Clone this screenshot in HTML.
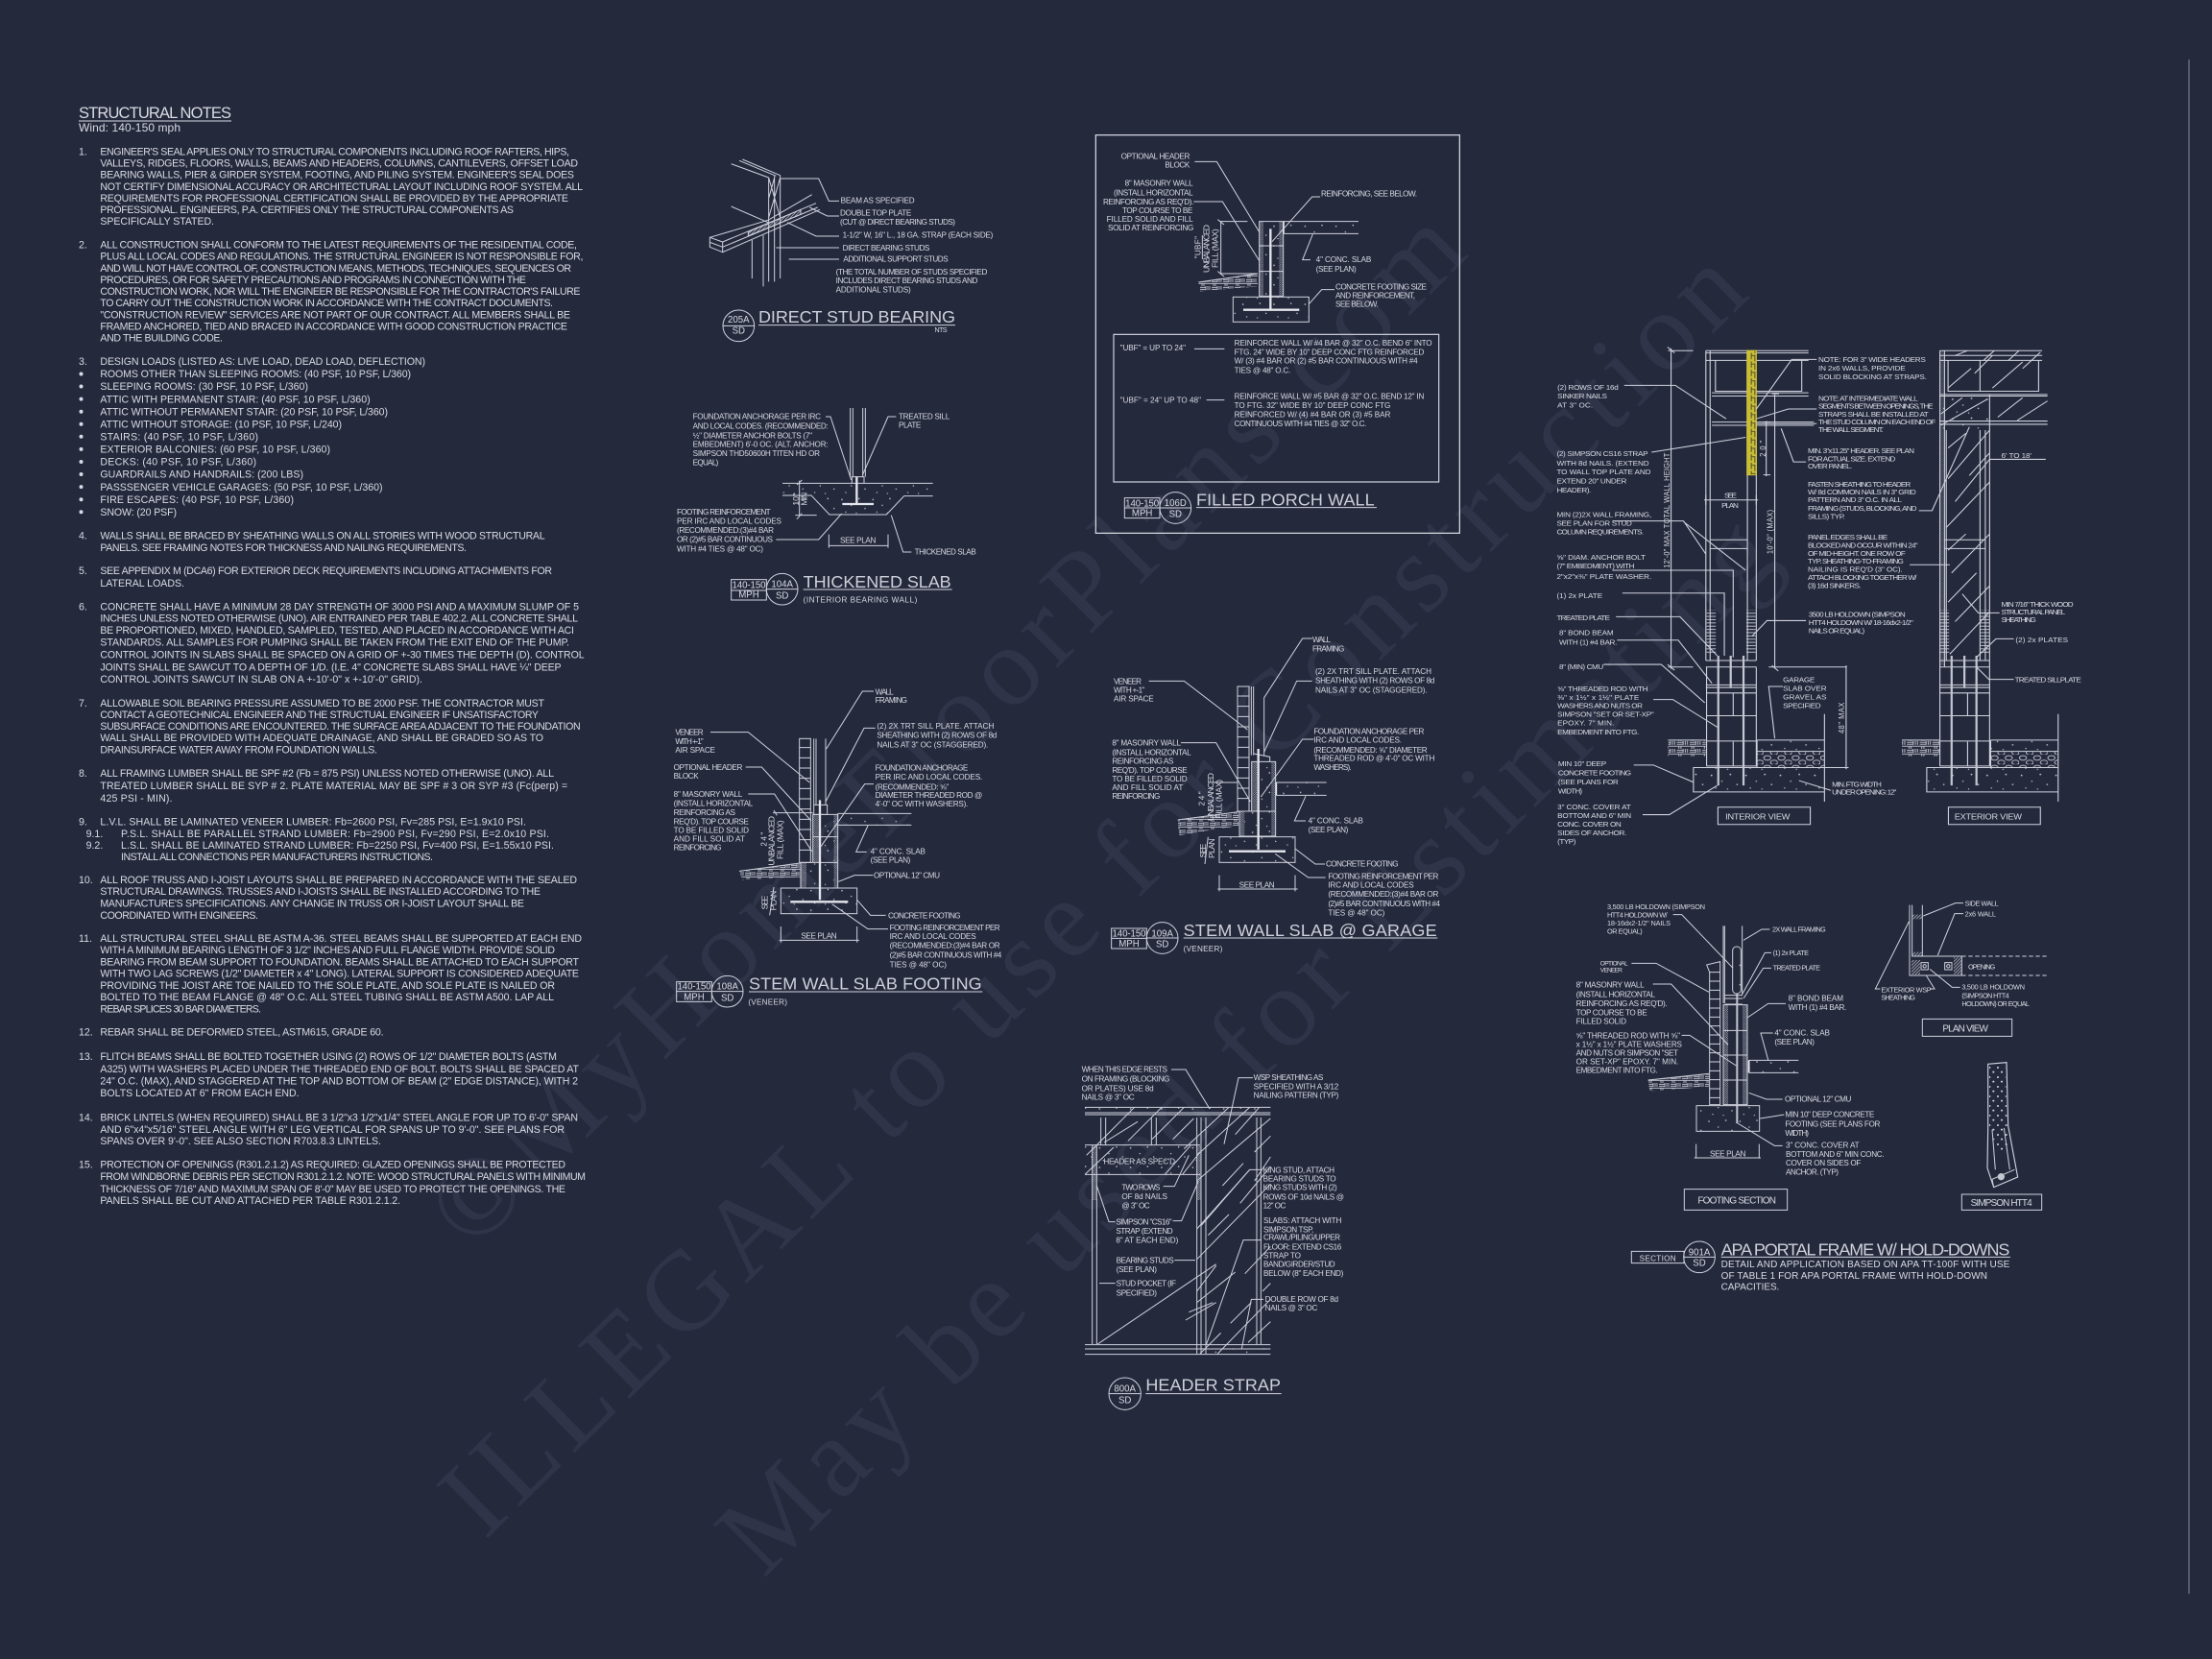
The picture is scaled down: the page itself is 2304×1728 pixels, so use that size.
<!DOCTYPE html>
<html><head><meta charset="utf-8"><title>Structural Notes and Details</title>
<style>
html,body{margin:0;padding:0;background:#25293c}
svg{display:block}
text{fill:#d8dbe3;font-family:"Liberation Sans",sans-serif;font-size:24.5px}
text[text-anchor=middle]{font-size:29px}
.n{font-size:10.6px}
.h{font-size:54px;fill:#ced1da}
.m{font-size:22px}
text[transform].m{font-size:26px}
.b{font-size:30px}
.p text{font-size:22px}
.p text.b{font-size:25px}
.w{font-family:"Liberation Serif",serif;font-size:118px;fill:#303449}
.l{fill:none;stroke:#cfd2dc;stroke-width:3}
.f{stroke:#e4e6ec;stroke-width:7;fill:none}
.g{stroke:#c4c7d0;stroke-width:6;fill:none}
</style></head><body>
<svg xmlns="http://www.w3.org/2000/svg" width="2304" height="1728" viewBox="0 0 2304 1728">
<defs>
<pattern id="c" width="97" height="61" patternUnits="userSpaceOnUse"><g fill="#c9ccd6"><circle cx="9" cy="12" r="2.4"/><circle cx="38" cy="30" r="2"/><circle cx="62" cy="9" r="2.4"/><circle cx="81" cy="40" r="2.2"/><circle cx="21" cy="51" r="2"/><circle cx="54" cy="54" r="1.8"/></g></pattern>
<pattern id="d" width="7" height="7" patternUnits="userSpaceOnUse"><circle cx="2" cy="2" r="1.7" fill="#b9bcc7"/><circle cx="5.5" cy="5.5" r="1.5" fill="#b9bcc7"/></pattern>
<pattern id="h" width="26" height="30" patternUnits="userSpaceOnUse"><circle cx="7" cy="6" r="3" fill="#d8dbe3"/><circle cx="19" cy="20" r="3" fill="#d8dbe3"/></pattern>
<pattern id="e" width="36" height="24" patternUnits="userSpaceOnUse"><path d="M0 4H18M0 10H18M0 16H36M18 0V12M24 0V12M30 0V12M6 16V24M12 16V24" stroke="#cfd2dc" stroke-width="2.4" fill="none"/></pattern>
<pattern id="s" width="10" height="10" patternUnits="userSpaceOnUse"><path d="M0 10L10 0M-2 2L2 -2M8 12L12 8" stroke="#c4c7d0" stroke-width="2.2"/></pattern>
<pattern id="y" width="26" height="26" patternUnits="userSpaceOnUse"><rect width="26" height="26" fill="#c9be35"/><path d="M8 0V20M18 6V26M8 8H18" stroke="#4a4830" stroke-width="2.6" fill="none"/></pattern>
<pattern id="r" width="40" height="30" patternUnits="userSpaceOnUse"><ellipse cx="11" cy="10" rx="10" ry="7" fill="none" stroke="#cfd2dc" stroke-width="2.4"/><ellipse cx="30" cy="24" rx="10" ry="7" fill="none" stroke="#cfd2dc" stroke-width="2.4"/></pattern>
<pattern id="k" width="6" height="10" patternUnits="userSpaceOnUse"><path d="M0 4H6" stroke="#cfd2dc" stroke-width="2.6"/></pattern>
</defs>
<rect width="2304" height="1728" fill="#25293c"/>

<!-- watermarks -->
<text class="w" transform="translate(492,1305) rotate(-45)" textLength="1470">©MyHomeFloorPlans.com</text>
<text class="w" transform="translate(505,1605) rotate(-44.5)" textLength="1850">ILLEGAL to use for Construction</text>
<text class="w" transform="translate(795,1645) rotate(-45)" textLength="1500">May be used for Estimating</text>

<line x1="2280" y1="62" x2="2280" y2="1660" stroke="#6c7080" stroke-width="1.4"/>

<!-- structural notes -->
<text x="82" y="123" style="font-size:16.5px" textLength="159">STRUCTURAL NOTES</text>
<line x1="82" y1="126" x2="241" y2="126" stroke="#d8dbe3" stroke-width="1"/>
<text class="n" x="82" y="137" style="font-size:12px" textLength="106">Wind: 140-150 mph</text>
<text class="n" x="82" y="161.4">1.</text>
<text class="n" x="104.4" y="161.4" textLength="488.6">ENGINEER'S SEAL APPLIES ONLY TO STRUCTURAL COMPONENTS INCLUDING ROOF RAFTERS, HIPS,</text>
<text class="n" x="104.4" y="173.6" textLength="497.6">VALLEYS, RIDGES, FLOORS, WALLS, BEAMS AND HEADERS, COLUMNS, CANTILEVERS, OFFSET LOAD</text>
<text class="n" x="104.4" y="185.7" textLength="493.6">BEARING WALLS, PIER &amp; GIRDER SYSTEM, FOOTING, AND PILING SYSTEM.  ENGINEER'S SEAL DOES</text>
<text class="n" x="104.4" y="197.9" textLength="502.6">NOT CERTIFY DIMENSIONAL ACCURACY OR ARCHITECTURAL LAYOUT INCLUDING ROOF SYSTEM. ALL</text>
<text class="n" x="104.4" y="210" textLength="487.6">REQUIREMENTS FOR PROFESSIONAL CERTIFICATION SHALL BE PROVIDED BY THE APPROPRIATE</text>
<text class="n" x="104.4" y="222" textLength="430.6">PROFESSIONAL.  ENGINEERS, P.A. CERTIFIES ONLY THE STRUCTURAL COMPONENTS AS</text>
<text class="n" x="104.4" y="234" textLength="118.6">SPECIFICALLY STATED.</text>
<text class="n" x="82" y="258.6">2.</text>
<text class="n" x="104.4" y="258.6" textLength="496.6">ALL CONSTRUCTION SHALL CONFORM TO THE LATEST REQUIREMENTS OF THE  RESIDENTIAL CODE,</text>
<text class="n" x="104.4" y="270.7" textLength="503">PLUS ALL LOCAL CODES AND REGULATIONS. THE STRUCTURAL ENGINEER IS NOT RESPONSIBLE FOR,</text>
<text class="n" x="104.4" y="282.9" textLength="490.6">AND WILL NOT HAVE CONTROL OF, CONSTRUCTION MEANS, METHODS, TECHNIQUES, SEQUENCES OR</text>
<text class="n" x="104.4" y="295" textLength="443.6">PROCEDURES, OR FOR SAFETY PRECAUTIONS AND PROGRAMS IN CONNECTION WITH THE</text>
<text class="n" x="104.4" y="307" textLength="500">CONSTRUCTION WORK, NOR WILL THE ENGINEER BE RESPONSIBLE FOR THE CONTRACTOR'S FAILURE</text>
<text class="n" x="104.4" y="319" textLength="471.6">TO CARRY OUT THE CONSTRUCTION WORK IN ACCORDANCE WITH THE CONTRACT DOCUMENTS.</text>
<text class="n" x="104.4" y="331.5" textLength="489.6">"CONSTRUCTION REVIEW" SERVICES ARE NOT PART OF OUR CONTRACT. ALL MEMBERS SHALL BE</text>
<text class="n" x="104.4" y="343.6" textLength="486.6">FRAMED ANCHORED, TIED AND BRACED IN ACCORDANCE WITH GOOD CONSTRUCTION PRACTICE</text>
<text class="n" x="104.4" y="355.7" textLength="127.6">AND THE BUILDING CODE.</text>
<text class="n" x="82" y="380">3.</text>
<text class="n" x="104.4" y="380" textLength="338.6">DESIGN LOADS (LISTED AS: LIVE LOAD, DEAD LOAD, DEFLECTION)</text>
<g fill="#d8dbe3"><circle cx="84.5" cy="389.5" r="2"/><circle cx="84.5" cy="402.5" r="2"/><circle cx="84.5" cy="415.6" r="2"/><circle cx="84.5" cy="428.7" r="2"/><circle cx="84.5" cy="441.8" r="2"/><circle cx="84.5" cy="454.8" r="2"/><circle cx="84.5" cy="467.9" r="2"/><circle cx="84.5" cy="481" r="2"/><circle cx="84.5" cy="494" r="2"/><circle cx="84.5" cy="507.1" r="2"/><circle cx="84.5" cy="520.2" r="2"/><circle cx="84.5" cy="533.3" r="2"/></g>
<text class="n" x="104.4" y="393.2" textLength="323.6">ROOMS OTHER THAN SLEEPING ROOMS: (40 PSF, 10 PSF, L/360)</text>
<text class="n" x="104.4" y="406.2" textLength="216.6">SLEEPING ROOMS: (30 PSF, 10 PSF, L/360)</text>
<text class="n" x="104.4" y="419.3" textLength="281.2">ATTIC WITH PERMANENT STAIR: (40 PSF, 10 PSF, L/360)</text>
<text class="n" x="104.4" y="432.4" textLength="299.6">ATTIC WITHOUT PERMANENT STAIR: (20 PSF, 10 PSF, L/360)</text>
<text class="n" x="104.4" y="445.5" textLength="251.6">ATTIC WITHOUT STORAGE: (10 PSF, 10 PSF, L/240)</text>
<text class="n" x="104.4" y="458.5" textLength="164.6">STAIRS: (40 PSF, 10 PSF, L/360)</text>
<text class="n" x="104.4" y="471.6" textLength="239.6">EXTERIOR BALCONIES: (60 PSF, 10 PSF, L/360)</text>
<text class="n" x="104.4" y="484.7" textLength="162.6">DECKS: (40 PSF, 10 PSF, L/360)</text>
<text class="n" x="104.4" y="497.7" textLength="211.6">GUARDRAILS AND HANDRAILS: (200 LBS)</text>
<text class="n" x="104.4" y="510.8" textLength="294.1">PASSSENGER VEHICLE GARAGES: (50 PSF, 10 PSF, L/360)</text>
<text class="n" x="104.4" y="523.9" textLength="201.6">FIRE ESCAPES: (40 PSF, 10 PSF, L/360)</text>
<text class="n" x="104.4" y="537" textLength="79.6">SNOW: (20 PSF)</text>
<text class="n" x="82" y="561.4">4.</text>
<text class="n" x="104.4" y="561.4" textLength="463.2">WALLS SHALL BE BRACED BY SHEATHING WALLS ON ALL STORIES WITH WOOD STRUCTURAL</text>
<text class="n" x="104.4" y="574" textLength="381.6">PANELS. SEE FRAMING NOTES FOR THICKNESS AND NAILING REQUIREMENTS.</text>
<text class="n" x="82" y="598">5.</text>
<text class="n" x="104.4" y="598" textLength="470.6">SEE APPENDIX M (DCA6) FOR EXTERIOR DECK REQUIREMENTS INCLUDING ATTACHMENTS FOR</text>
<text class="n" x="104.4" y="611" textLength="87.6">LATERAL LOADS.</text>
<text class="n" x="82" y="635.4">6.</text>
<text class="n" x="104.4" y="635.4" textLength="498.6">CONCRETE SHALL HAVE A MINIMUM 28 DAY STRENGTH OF 3000 PSI AND A MAXIMUM SLUMP OF 5</text>
<text class="n" x="104.4" y="647.5" textLength="497.6">INCHES UNLESS NOTED OTHERWISE (UNO). AIR ENTRAINED PER TABLE 402.2. ALL CONCRETE SHALL</text>
<text class="n" x="104.4" y="660" textLength="493.6">BE PROPORTIONED, MIXED, HANDLED, SAMPLED, TESTED, AND PLACED IN ACCORDANCE WITH ACI</text>
<text class="n" x="104.4" y="672.5" textLength="488.6">STANDARDS. ALL SAMPLES FOR PUMPING SHALL BE TAKEN FROM THE EXIT END OF THE PUMP.</text>
<text class="n" x="104.4" y="685.6" textLength="504.2">CONTROL JOINTS IN SLABS SHALL BE SPACED ON A GRID OF +-30 TIMES THE DEPTH (D). CONTROL</text>
<text class="n" x="104.4" y="698.6" textLength="480.2">JOINTS SHALL BE SAWCUT TO A DEPTH OF 1/D. (I.E. 4" CONCRETE SLABS SHALL HAVE ¼" DEEP</text>
<text class="n" x="104.4" y="711" textLength="335.6">CONTROL JOINTS SAWCUT IN SLAB ON A +-10'-0" x +-10'-0" GRID).</text>
<text class="n" x="82" y="735.8">7.</text>
<text class="n" x="104.4" y="735.8" textLength="462.6">ALLOWABLE SOIL BEARING PRESSURE ASSUMED TO BE 2000 PSF. THE CONTRACTOR MUST</text>
<text class="n" x="104.4" y="748" textLength="456.6">CONTACT A GEOTECHNICAL ENGINEER AND THE STRUCTUAL ENGINEER IF UNSATISFACTORY</text>
<text class="n" x="104.4" y="760" textLength="500.2">SUBSURFACE CONDITIONS ARE ENCOUNTERED. THE SURFACE AREA ADJACENT TO THE FOUNDATION</text>
<text class="n" x="104.4" y="772" textLength="461.6">WALL SHALL BE PROVIDED WITH ADEQUATE DRAINAGE, AND SHALL BE GRADED SO AS TO</text>
<text class="n" x="104.4" y="784.4" textLength="288.6">DRAINSURFACE WATER AWAY FROM FOUNDATION WALLS.</text>
<text class="n" x="82" y="809">8.</text>
<text class="n" x="104.4" y="809" textLength="472.6">ALL FRAMING LUMBER SHALL BE SPF #2 (Fb = 875 PSI) UNLESS NOTED OTHERWISE (UNO). ALL</text>
<text class="n" x="104.4" y="822" textLength="486.6">TREATED LUMBER SHALL BE SYP # 2. PLATE MATERIAL MAY BE SPF # 3 OR SYP #3 (Fc(perp) =</text>
<text class="n" x="104.4" y="835" textLength="75.1">425 PSI - MIN).</text>
<text class="n" x="82" y="859.6">9.</text>
<text class="n" x="104.4" y="859.6" textLength="443.6">L.V.L.  SHALL BE LAMINATED VENEER LUMBER: Fb=2600 PSI, Fv=285 PSI, E=1.9x10   PSI.</text>
<text class="n" x="89.6" y="871.8">9.1.</text>
<text class="n" x="126" y="871.8" textLength="446">P.S.L.  SHALL BE PARALLEL STRAND LUMBER: Fb=2900 PSI, Fv=290 PSI, E=2.0x10   PSI.</text>
<text class="n" x="89.6" y="884">9.2.</text>
<text class="n" x="126" y="884" textLength="451">L.S.L.  SHALL BE LAMINATED STRAND LUMBER: Fb=2250 PSI, Fv=400 PSI, E=1.55x10   PSI.</text>
<text class="n" x="126" y="896" textLength="325">INSTALL ALL CONNECTIONS PER MANUFACTURERS INSTRUCTIONS.</text>
<text class="n" x="82" y="920">10.</text>
<text class="n" x="104.4" y="920" textLength="496.6">ALL ROOF TRUSS AND I-JOIST LAYOUTS SHALL BE PREPARED IN ACCORDANCE WITH THE SEALED</text>
<text class="n" x="104.4" y="932" textLength="458.6">STRUCTURAL DRAWINGS. TRUSSES AND I-JOISTS SHALL BE INSTALLED ACCORDING TO THE</text>
<text class="n" x="104.4" y="944.6" textLength="441.6">MANUFACTURE'S SPECIFICATIONS. ANY CHANGE IN TRUSS OR I-JOIST LAYOUT SHALL BE</text>
<text class="n" x="104.4" y="957" textLength="164.6">COORDINATED WITH  ENGINEERS.</text>
<text class="n" x="82" y="981">11.</text>
<text class="n" x="104.4" y="981" textLength="501.6">ALL STRUCTURAL STEEL SHALL BE ASTM A-36. STEEL BEAMS SHALL BE SUPPORTED AT EACH END</text>
<text class="n" x="104.4" y="993" textLength="473.6">WITH A MINIMUM BEARING LENGTH OF 3 1/2" INCHES AND FULL FLANGE WIDTH. PROVIDE SOLID</text>
<text class="n" x="104.4" y="1005.5" textLength="498.6">BEARING FROM BEAM SUPPORT TO FOUNDATION.  BEAMS SHALL BE ATTACHED TO EACH SUPPORT</text>
<text class="n" x="104.4" y="1017.7" textLength="498.6">WITH TWO LAG SCREWS (1/2" DIAMETER x 4" LONG). LATERAL SUPPORT IS CONSIDERED ADEQUATE</text>
<text class="n" x="104.4" y="1030" textLength="473.6">PROVIDING THE JOIST ARE TOE NAILED TO THE SOLE PLATE, AND SOLE PLATE IS NAILED OR</text>
<text class="n" x="104.4" y="1042" textLength="472.6">BOLTED TO THE BEAM FLANGE @ 48" O.C. ALL STEEL TUBING SHALL BE ASTM A500. LAP ALL</text>
<text class="n" x="104.4" y="1054.5" textLength="167.6">REBAR SPLICES 30 BAR DIAMETERS.</text>
<text class="n" x="82" y="1078.6">12.</text>
<text class="n" x="104.4" y="1078.6" textLength="295.2">REBAR SHALL BE DEFORMED STEEL, ASTM615, GRADE 60.</text>
<text class="n" x="82" y="1104">13.</text>
<text class="n" x="104.4" y="1104" textLength="475.6">FLITCH BEAMS SHALL BE BOLTED TOGETHER USING (2) ROWS OF 1/2" DIAMETER BOLTS (ASTM</text>
<text class="n" x="104.4" y="1117" textLength="498.6">A325) WITH WASHERS PLACED UNDER THE THREADED END OF BOLT. BOLTS SHALL BE SPACED AT</text>
<text class="n" x="104.4" y="1129.6" textLength="497.6">24" O.C. (MAX), AND STAGGERED AT THE TOP AND BOTTOM OF BEAM (2" EDGE DISTANCE), WITH 2</text>
<text class="n" x="104.4" y="1142" textLength="207.2">BOLTS LOCATED AT 6" FROM EACH END.</text>
<text class="n" x="82" y="1167.6">14.</text>
<text class="n" x="104.4" y="1167.6" textLength="497.6">BRICK LINTELS (WHEN REQUIRED) SHALL BE 3 1/2"x3 1/2"x1/4" STEEL ANGLE FOR UP TO 6'-0" SPAN</text>
<text class="n" x="104.4" y="1180" textLength="483.6">AND 6"x4"x5/16" STEEL ANGLE WITH 6" LEG VERTICAL FOR SPANS UP TO 9'-0". SEE PLANS FOR</text>
<text class="n" x="104.4" y="1192" textLength="292.6">SPANS OVER 9'-0". SEE ALSO SECTION R703.8.3 LINTELS.</text>
<text class="n" x="82" y="1216.6">15.</text>
<text class="n" x="104.4" y="1216.6" textLength="484.6">PROTECTION OF OPENINGS (R301.2.1.2) AS REQUIRED: GLAZED OPENINGS SHALL BE PROTECTED</text>
<text class="n" x="104.4" y="1229" textLength="505.6">FROM WINDBORNE DEBRIS PER SECTION R301.2.1.2. NOTE: WOOD STRUCTURAL PANELS WITH MINIMUM</text>
<text class="n" x="104.4" y="1242" textLength="484.6">THICKNESS OF 7/16" AND MAXIMUM SPAN OF 8'-0" MAY BE USED TO PROTECT THE OPENINGS. THE</text>
<text class="n" x="104.4" y="1254" textLength="312.6">PANELS SHALL BE CUT AND ATTACHED PER TABLE R301.2.1.2.</text>

<!-- direct stud bearing + thickened slab -->
<g transform="translate(680,130) scale(.33333)">
<path class="l" d="M245 122L362 165M270 112L385 160M280 108L398 158M362 165V490M380 160V490M398 158V480M362 165L398 290M398 165L362 290M380 165L362 230M178 352V382L218 398V366ZM178 367L218 382M178 352L360 298L497 218M218 366L510 245M218 382L515 258M218 398L522 265M245 255L360 305M310 360V480M345 345V505"/>
<polygon points="298,335 462,265 462,280 298,347" fill="url(#s)" stroke="#cfd2dc" stroke-width="3"/>
<path class="l" d="M400 168H518L550 238H582M490 258L545 285H582M420 305L510 348H582M385 384H582M425 420H582"/>
<text x="587" y="245" textLength="231">BEAM AS SPECIFIED</text>
<text x="585" y="283" textLength="223">DOUBLE TOP PLATE</text>
<text x="585" y="312" textLength="360">(CUT @ DIRECT BEARING STUDS)</text>
<text x="593" y="353" textLength="470">1-1/2" W, 16" L., 18 GA. STRAP (EACH SIDE)</text>
<text x="593" y="393" textLength="272">DIRECT BEARING STUDS</text>
<text x="595" y="428" textLength="328">ADDITIONAL SUPPORT STUDS</text>
<text x="572" y="468" textLength="473">(THE TOTAL NUMBER OF STUDS SPECIFIED</text>
<text x="572" y="495" textLength="443">INCLUDES DIRECT BEARING STUDS AND</text>
<text x="572" y="524" textLength="234">ADDITIONAL STUDS)</text>
<circle class="l" cx="268" cy="628" r="49"/><line class="l" x1="220" y1="628" x2="317" y2="628"/>
<text x="268" y="618" text-anchor="middle">205A</text><text x="268" y="653" text-anchor="middle">SD</text>
<text class="h" x="330" y="618" textLength="615">DIRECT STUD BEARING</text>
<line class="l" x1="330" y1="626" x2="945" y2="626"/>
<text x="880" y="648" style="font-size:22px" textLength="40">NTS</text>

<polygon points="405,1120 875,1120 875,1160 785,1160 730,1218 552,1218 495,1158 405,1158" fill="url(#c)"/>
<path class="l" d="M617 885V1100M625 885V1100M656 885V1100M664 885V1100M622 1100H660V1120H622ZM405 1120H875M405 1158H495L552 1218H730L785 1160H875"/>
<path class="f" d="M637 1100V1185M592 1185H690"/>
<path class="l" d="M458 1112V1222M445 1220H512M450 1125L466 1110M450 1232L466 1214"/>
<text class="m" transform="translate(456,1190) rotate(-90)" textLength="38">10"</text><text class="m" transform="translate(482,1190) rotate(-90)" textLength="42">MIN</text>
<path class="l" d="M540 912H555L620 1110M760 912H735L655 1095M385 1296H518L590 1215M808 1335H782L745 1220M550 1315H735M550 1280V1322M735 1280V1322"/>
<text x="585" y="1306" textLength="112">SEE PLAN</text>
<text x="125" y="920" textLength="400">FOUNDATION ANCHORAGE PER IRC</text>
<text x="125" y="949" textLength="423">AND LOCAL CODES. (RECOMMENDED:</text>
<text x="125" y="979" textLength="373">½" DIAMETER ANCHOR BOLTS (7"</text>
<text x="125" y="1007" textLength="423">EMBEDMENT) 6'-0 OC. (ALT. ANCHOR:</text>
<text x="125" y="1035" textLength="397">SIMPSON THD50600H TITEN HD OR</text>
<text x="125" y="1063" textLength="80">EQUAL)</text>
<text x="768" y="919" textLength="160">TREATED SILL</text>
<text x="768" y="946" textLength="70">PLATE</text>
<text x="75" y="1218" textLength="293">FOOTING REINFORCEMENT</text>
<text x="75" y="1246" textLength="327">PER IRC AND LOCAL CODES</text>
<text x="75" y="1275" textLength="303">(RECOMMENDED:(3)#4 BAR</text>
<text x="75" y="1304" textLength="300">OR (2)#5 BAR CONTINUOUS</text>
<text x="75" y="1333" textLength="270">WITH #4 TIES @ 48" OC)</text>
<text x="818" y="1343" textLength="192">THICKENED SLAB</text>
<path class="l" d="M245 1421H355V1485H245ZM245 1455H355"/>
<text x="300" y="1447" text-anchor="middle" textLength="105">140-150</text><text x="300" y="1478" text-anchor="middle">MPH</text>
<circle class="l" cx="404" cy="1451" r="49"/><line class="l" x1="355" y1="1451" x2="453" y2="1451"/>
<text x="404" y="1445" text-anchor="middle">104A</text><text x="404" y="1480" text-anchor="middle">SD</text>
<text class="h" x="470" y="1446" textLength="462">THICKENED SLAB</text>
<line class="l" x1="470" y1="1452" x2="935" y2="1452"/>
<text x="470" y="1492" textLength="356">(INTERIOR BEARING WALL)</text>
</g>

<!-- stem wall slab footing -->
<g transform="translate(680,700) scale(.33333)">
<rect x="458" y="208" width="35" height="387" fill="none" stroke="#cfd2dc" stroke-width="3"/>
<path class="l" d="M458 236H493M458 268H493M458 300H493M458 332H493M458 364H493M458 396H493M458 428H493M458 460H493M458 492H493M458 524H493M458 556H493"/>
<path class="l" d="M503 208V415M510 208V415M540 208V415M503 415H545V445H503Z"/>
<rect x="500" y="445" width="18" height="150" fill="url(#d)"/><rect x="566" y="445" width="12" height="150" fill="url(#d)"/>
<rect x="462" y="595" width="18" height="80" fill="url(#d)"/><rect x="566" y="595" width="12" height="80" fill="url(#d)"/>
<rect x="518" y="445" width="48" height="150" fill="url(#c)"/><rect x="480" y="595" width="86" height="80" fill="url(#c)"/>
<path class="l" d="M500 445H578V595H500ZM500 515H578M462 595H578V675H462Z"/>
<rect x="400" y="675" width="238" height="80" fill="url(#c)" stroke="#cfd2dc" stroke-width="3"/>
<path class="f" d="M522 400V712M430 718H610"/>
<rect x="578" y="442" width="230" height="36" fill="url(#c)"/><path class="l" d="M578 442H808M578 478H808M578 442V478"/>
<polygon points="270,622 460,597 460,640 280,650" fill="url(#e)"/><path class="l" d="M270 622L460 597"/>
<path class="l" d="M375 440H500M378 432L388 448"/>
<text transform="translate(356,545) rotate(-90)" textLength="45">24"</text><text class="m" transform="translate(380,605) rotate(-90)" textLength="155">UNBALANCED</text><text class="m" transform="translate(407,585) rotate(-90)" textLength="122">FILL (MAX)</text>
<text class="m" transform="translate(358,742) rotate(-90)" textLength="44">SEE</text><text class="m" transform="translate(385,745) rotate(-90)" textLength="62">PLAN</text>
<path class="l" d="M378 672L365 760M400 795V845M638 795V845M395 838H645"/>
<text x="463" y="833" textLength="112">SEE PLAN</text>
<path class="l" d="M180 188H298L490 345M290 297H340L495 465M298 381H380L497 560M690 60H655L542 240M695 175H660L540 405M690 350H662L525 545M668 562H635L672 480M688 635H630L580 655M728 760H680L638 712M735 803H672L560 725"/>
<text x="695" y="70" textLength="57">WALL</text><text x="695" y="96" textLength="100">FRAMING</text>
<text x="700" y="177" textLength="366">(2) 2X TRT SILL PLATE. ATTACH</text>
<text x="700" y="206" textLength="375">SHEATHING WITH (2) ROWS OF 8d</text>
<text x="700" y="235" textLength="348">NAILS AT 3" OC (STAGGERED).</text>
<text x="70" y="197" textLength="88">VENEER</text><text x="70" y="225" textLength="88">WITH +-1"</text><text x="70" y="252" textLength="125">AIR SPACE</text>
<text x="65" y="306" textLength="215">OPTIONAL HEADER</text><text x="65" y="333" textLength="78">BLOCK</text>
<text x="65" y="390" textLength="215">8" MASONRY WALL</text>
<text x="65" y="419" textLength="248">(INSTALL HORIZONTAL</text>
<text x="65" y="447" textLength="193">REINFORCING AS</text>
<text x="65" y="476" textLength="235">REQ'D). TOP COURSE</text>
<text x="65" y="503" textLength="235">TO BE FILLED SOLID</text>
<text x="65" y="530" textLength="223">AND FILL SOLID AT</text>
<text x="65" y="557" textLength="150">REINFORCING</text>
<text x="695" y="308" textLength="290">FOUNDATION ANCHORAGE</text>
<text x="695" y="336" textLength="335">PER IRC AND LOCAL CODES.</text>
<text x="695" y="367" textLength="230">(RECOMMENDED: ⅝"</text>
<text x="695" y="393" textLength="335">DIAMETER THREADED ROD @</text>
<text x="695" y="420" textLength="290">4'-0" OC WITH WASHERS).</text>
<text x="680" y="568" textLength="172">4" CONC. SLAB</text><text x="680" y="596" textLength="125">(SEE PLAN)</text>
<text x="690" y="644" textLength="207">OPTIONAL 12" CMU</text>
<text x="735" y="769" textLength="227">CONCRETE FOOTING</text>
<text x="740" y="807" textLength="345">FOOTING REINFORCEMENT PER</text>
<text x="740" y="834" textLength="270">IRC AND LOCAL CODES</text>
<text x="740" y="863" textLength="345">(RECOMMENDED:(3)#4 BAR OR</text>
<text x="740" y="893" textLength="350">(2)#5 BAR CONTINUOUS WITH #4</text>
<text x="740" y="922" textLength="178">TIES @ 48" OC)</text>
<path class="l" d="M74 968H184V1030H74ZM74 998H184"/>
<text x="129" y="992" text-anchor="middle" textLength="105">140-150</text><text x="129" y="1024" text-anchor="middle">MPH</text>
<circle class="l" cx="233" cy="998" r="49"/><line class="l" x1="186" y1="998" x2="282" y2="998"/>
<text x="233" y="992" text-anchor="middle">108A</text><text x="233" y="1028" text-anchor="middle">SD</text>
<text class="h" x="300" y="992" textLength="728">STEM WALL SLAB FOOTING</text>
<line class="l" x1="300" y1="999" x2="1030" y2="999"/>
<text x="298" y="1040" textLength="122">(VENEER)</text>
</g>

<!-- filled porch wall -->
<g transform="translate(1130,130) scale(.33333)">
<rect x="34" y="32" width="1137" height="1244" fill="none" stroke="#dfe1e8" stroke-width="3.6"/>
<rect x="90" y="655" width="1016" height="461" fill="none" stroke="#cfd2dc" stroke-width="3.6"/>
<rect x="545" y="302" width="13" height="233" fill="url(#d)"/><rect x="607" y="302" width="13" height="233" fill="url(#d)"/>
<rect x="558" y="302" width="49" height="233" fill="url(#c)"/>
<path class="l" d="M545 302H620V535H545ZM545 378H620M545 458H620"/>
<rect x="463" y="538" width="237" height="78" fill="url(#c)" stroke="#cfd2dc" stroke-width="3"/>
<path class="f" d="M580 325V578M495 578H670"/>
<rect x="620" y="302" width="235" height="38" fill="url(#c)"/><path class="l" d="M620 302H855M620 340H855"/><path d="M621 302V340" stroke="#e4e6ec" stroke-width="5"/>
<polygon points="355,492 540,465 540,505 360,520" fill="url(#e)"/><path class="l" d="M355 492L540 465"/>
<path class="l" d="M425 300V468M415 296L435 312M415 458L435 474M425 302H508M425 465H540"/>
<text transform="translate(362,418) rotate(-90)" textLength="70">"UBF"</text><line class="l" x1="367" y1="345" x2="367" y2="420"/>
<text class="m" transform="translate(388,462) rotate(-90)" textLength="150">UNBALANCED</text><text class="m" transform="translate(416,447) rotate(-90)" textLength="122">FILL (MAX)</text>
<path class="l" d="M343 115H412L545 335M340 240H430L545 425M735 225H710L585 365M705 422H680L712 342M780 515H740L700 560M342 700H436M380 860H436"/>
<text x="113" y="107" textLength="215">OPTIONAL HEADER</text><text x="250" y="134" textLength="78">BLOCK</text>
<text x="125" y="191" textLength="213">8" MASONRY WALL</text>
<text x="90" y="220" textLength="248">(INSTALL HORIZONTAL</text>
<text x="57" y="249" textLength="283">REINFORCING AS REQ'D).</text>
<text x="117" y="276" textLength="220">TOP COURSE TO BE</text>
<text x="68" y="303" textLength="270">FILLED SOLID AND FILL</text>
<text x="72" y="330" textLength="268">SOLID AT REINFORCING</text>
<text x="738" y="223" textLength="300">REINFORCING, SEE BELOW.</text>
<text x="722" y="429" textLength="173">4" CONC. SLAB</text><text x="722" y="459" textLength="126">(SEE PLAN)</text>
<text x="783" y="514" textLength="285">CONCRETE FOOTING SIZE</text>
<text x="783" y="541" textLength="249">AND REINFORCEMENT,</text>
<text x="783" y="568" textLength="134">SEE BELOW.</text>
<text x="110" y="705" textLength="205">"UBF" = UP TO 24"</text>
<text x="467" y="690" textLength="618">REINFORCE WALL W/ #4 BAR @ 32" O.C. BEND 6" INTO</text>
<text x="467" y="718" textLength="593">FTG. 24" WIDE BY 10" DEEP CONC FTG REINFORCED</text>
<text x="467" y="746" textLength="573">W/ (3) #4 BAR OR (2) #5 BAR CONTINUOUS WITH #4</text>
<text x="467" y="775" textLength="176">TIES @ 48" O.C.</text>
<text x="110" y="868" textLength="253">"UBF" = 24" UP TO 48"</text>
<text x="467" y="857" textLength="593">REINFORCE WALL W/ #5 BAR @ 32" O.C. BEND 12" IN</text>
<text x="467" y="885" textLength="488">TO FTG.  32" WIDE BY 10" DEEP CONC FTG</text>
<text x="467" y="913" textLength="488">REINFORCED W/ (4) #4 BAR OR (3) #5 BAR</text>
<text x="467" y="942" textLength="413">CONTINUOUS WITH #4 TIES @ 32" O.C.</text>
<path class="l" d="M124 1166H234V1229H124ZM124 1197H234"/>
<text x="179" y="1192" text-anchor="middle" textLength="105">140-150</text><text x="179" y="1223" text-anchor="middle">MPH</text>
<circle class="l" cx="283" cy="1197" r="49"/><line class="l" x1="234" y1="1197" x2="332" y2="1197"/>
<text x="283" y="1191" text-anchor="middle">106D</text><text x="283" y="1226" text-anchor="middle">SD</text>
<text class="h" x="348" y="1190" textLength="557">FILLED PORCH WALL</text>
<line class="l" x1="348" y1="1196" x2="912" y2="1196"/>
</g>

<!-- stem wall slab @ garage -->
<g transform="translate(1140,680) scale(.33333)">
<rect x="447" y="105" width="36" height="390" fill="none" stroke="#cfd2dc" stroke-width="3"/>
<path class="l" d="M447 135H483M447 167H483M447 199H483M447 231H483M447 263H483M447 295H483M447 327H483M447 359H483M447 391H483M447 423H483M447 455H483"/>
<path class="l" d="M490 105V320M497 105V320M530 140V320M497 315L548 325V340M370 405H445"/>
<rect x="491" y="340" width="18" height="155" fill="url(#d)"/><rect x="553" y="340" width="13" height="155" fill="url(#d)"/>
<rect x="453" y="495" width="16" height="78" fill="url(#d)"/><rect x="553" y="495" width="13" height="78" fill="url(#d)"/>
<rect x="509" y="340" width="44" height="155" fill="url(#c)"/><rect x="469" y="495" width="84" height="78" fill="url(#c)"/>
<path class="l" d="M491 340H566V495H491ZM453 495H566V573H453Z"/>
<rect x="390" y="575" width="237" height="80" fill="url(#c)" stroke="#cfd2dc" stroke-width="3"/>
<path class="f" d="M512 300V615M420 620H597"/>
<rect x="568" y="405" width="157" height="40" fill="url(#c)"/><path class="l" d="M568 405H725M568 445H725"/><path d="M568 405V445" stroke="#e4e6ec" stroke-width="5"/>
<polygon points="260,522 450,497 450,540 265,570" fill="url(#e)"/><path class="l" d="M260 522L450 497"/>
<text transform="translate(344,478) rotate(-90)" textLength="45">24"</text><text class="m" transform="translate(372,525) rotate(-90)" textLength="150">UNBALANCED</text><text class="m" transform="translate(398,518) rotate(-90)" textLength="122">FILL (MAX)</text>
<text class="m" transform="translate(348,640) rotate(-90)" textLength="44">SEE</text><text class="m" transform="translate(375,642) rotate(-90)" textLength="62">PLAN</text>
<path class="l" d="M355 575L345 660M390 695V745M627 695V745M385 738H635"/>
<text x="452" y="733" textLength="111">SEE PLAN</text>
<path class="l" d="M170 88H280L478 240M270 281H380L487 465M680 -45H650L530 140M680 88H632L530 310M685 270H650L520 450M660 525H625L660 448M720 660H690L627 612M722 702H668L565 628"/>
<text x="681" y="-33" textLength="57">WALL</text><text x="681" y="-5" textLength="100">FRAMING</text>
<text x="690" y="66" textLength="363">(2) 2X TRT SILL PLATE. ATTACH</text>
<text x="690" y="95" textLength="373">SHEATHING WITH (2) ROWS OF 8d</text>
<text x="690" y="124" textLength="350">NAILS AT 3" OC (STAGGERED).</text>
<text x="60" y="97" textLength="87">VENEER</text><text x="60" y="125" textLength="97">WITH +-1"</text><text x="60" y="152" textLength="125">AIR SPACE</text>
<text x="55" y="290" textLength="215">8" MASONRY WALL</text>
<text x="55" y="319" textLength="247">(INSTALL HORIZONTAL</text>
<text x="55" y="346" textLength="192">REINFORCING AS</text>
<text x="55" y="375" textLength="235">REQ'D). TOP COURSE</text>
<text x="55" y="402" textLength="235">TO BE FILLED SOLID</text>
<text x="55" y="429" textLength="222">AND FILL SOLID AT</text>
<text x="55" y="456" textLength="150">REINFORCING</text>
<text x="685" y="254" textLength="345">FOUNDATION ANCHORAGE PER</text>
<text x="685" y="281" textLength="275">IRC AND LOCAL CODES.</text>
<text x="685" y="312" textLength="355">(RECOMMENDED: ⅝" DIAMETER</text>
<text x="685" y="338" textLength="378">THREADED ROD @ 4'-0" OC WITH</text>
<text x="685" y="366" textLength="118">WASHERS).</text>
<text x="668" y="532" textLength="172">4" CONC. SLAB</text><text x="668" y="561" textLength="125">(SEE PLAN)</text>
<text x="723" y="668" textLength="227">CONCRETE FOOTING</text>
<text x="730" y="706" textLength="345">FOOTING REINFORCEMENT PER</text>
<text x="730" y="734" textLength="268">IRC AND LOCAL CODES</text>
<text x="730" y="762" textLength="345">(RECOMMENDED:(3)#4 BAR OR</text>
<text x="730" y="792" textLength="350">(2)#5 BAR CONTINUOUS WITH #4</text>
<text x="730" y="821" textLength="177">TIES @ 48" OC)</text>
<path class="l" d="M53 861H163V924H53ZM53 892H163"/>
<text x="108" y="886" text-anchor="middle" textLength="105">140-150</text><text x="108" y="918" text-anchor="middle">MPH</text>
<circle class="l" cx="212" cy="891" r="49"/><line class="l" x1="164" y1="891" x2="261" y2="891"/>
<text x="212" y="886" text-anchor="middle">109A</text><text x="212" y="920" text-anchor="middle">SD</text>
<text class="h" x="278" y="885" textLength="792">STEM WALL SLAB @ GARAGE</text>
<line class="l" x1="278" y1="891" x2="1072" y2="891"/>
<text x="278" y="933" textLength="122">(VENEER)</text>
</g>

<!-- header strap -->
<g transform="translate(1110,1090) scale(.33333)">
<rect x="60" y="190" width="580" height="22" fill="url(#c)"/>
<rect x="60" y="310" width="360" height="90" fill="url(#c)"/>
<rect x="83" y="310" width="14" height="170" fill="url(#d)"/><rect x="410" y="310" width="13" height="170" fill="url(#d)"/>
<rect x="420" y="932" width="220" height="30" fill="url(#c)"/>
<path class="l" d="M60 190H640M60 207H640M60 213H640M60 308H420M60 400H420M83 310V930M97 310V930M110 222V308M125 222V308M268 222V308M283 222V308M410 222V960M423 222V960M438 222V960M597 222V930M610 222V930M60 932H640M60 945H640M60 962H640"/>
<path class="l" d="M65 340L215 190M120 300L225 235M195 295L300 190M270 290L370 190M335 290L400 225M370 320L510 190M410 340L575 190M410 420L640 225M530 275L605 190M590 330L640 280M490 435L555 365M545 490L640 375M410 570L575 385M445 590L510 525M590 420L640 345M410 665L640 430M560 710L640 625M410 765L470 685M410 800L530 705M615 765L640 740M515 865L580 800M570 925L640 860M420 960L485 895M475 960L640 790M60 400L150 315M310 400L390 310M365 400L420 330M100 930L470 680M375 855L470 800M385 830L460 800"/>
<path class="l" d="M330 72H375L450 195M585 98H540L495 305M305 437H340L385 340M335 545H362L415 420M155 548H135L97 435M340 668H405M155 740H105M612 385H575L423 560M612 605H555L440 930M618 790H580L550 945"/>
<text x="50" y="80" textLength="268">WHEN THIS EDGE RESTS</text>
<text x="50" y="110" textLength="275">ON FRAMING (BLOCKING</text>
<text x="50" y="139" textLength="225">OR PLATES) USE 8d</text>
<text x="50" y="167" textLength="165">NAILS @ 3" OC</text>
<text x="587" y="105" textLength="218">WSP SHEATHING AS</text>
<text x="587" y="133" textLength="266">SPECIFIED WITH A  3/12</text>
<text x="587" y="161" textLength="266">NAILING PATTERN (TYP)</text>
<text x="617" y="394" textLength="223">KING STUD, ATTACH</text>
<text x="617" y="421" textLength="228">BEARING  STUDS TO</text>
<text x="617" y="449" textLength="231">KING STUDS WITH (2)</text>
<text x="617" y="478" textLength="253">ROWS OF 10d NAILS @</text>
<text x="617" y="506" textLength="71">12" OC</text>
<text x="618" y="552" textLength="244">SLABS: ATTACH WITH</text>
<text x="618" y="581" textLength="157">SIMPSON TSP,</text>
<text x="618" y="605" textLength="240">CRAWL/PILING/UPPER</text>
<text x="618" y="634" textLength="244">FLOOR: EXTEND CS16</text>
<text x="618" y="662" textLength="117">STRAP TO</text>
<text x="618" y="689" textLength="224">BAND/GIRDER/STUD</text>
<text x="618" y="717" textLength="250">BELOW (8" EACH END)</text>
<text x="623" y="798" textLength="229">DOUBLE ROW OF 8d</text>
<text x="623" y="825" textLength="164">NAILS @ 3" OC</text>
<text x="118" y="367" textLength="224">HEADER AS SPEC'D</text>
<text x="175" y="449" textLength="120">TWO ROWS</text><text x="175" y="477" textLength="143">OF 8d NAILS</text><text x="175" y="505" textLength="88">@ 3" OC</text>
<text x="157" y="556" textLength="175">SIMPSON "CS16"</text><text x="157" y="585" textLength="178">STRAP (EXTEND</text><text x="157" y="614" textLength="195">8" AT EACH END)</text>
<text x="158" y="677" textLength="180">BEARING STUDS</text><text x="158" y="705" textLength="127">(SEE PLAN)</text>
<text x="158" y="749" textLength="187">STUD POCKET (IF</text><text x="158" y="778" textLength="127">SPECIFIED)</text>
<circle class="l" cx="185" cy="1085" r="50"/><line class="l" x1="135" y1="1085" x2="235" y2="1085"/>
<text x="185" y="1078" text-anchor="middle">800A</text><text x="185" y="1115" text-anchor="middle">SD</text>
<text class="h" x="250" y="1075" textLength="422">HEADER STRAP</text>
<line class="l" x1="250" y1="1085" x2="674" y2="1085"/>
</g>

<!-- portal frame interior / exterior -->
<g class="p" transform="translate(1600,350) scale(.3699,.33801)">
<rect x="443" y="1330" width="369" height="75" fill="url(#c)"/>
<rect x="622" y="1245" width="190" height="35" fill="url(#c)"/><rect x="622" y="1280" width="190" height="48" fill="url(#r)"/>
<rect x="372" y="1245" width="106" height="50" fill="url(#e)"/>
<rect x="480" y="845" width="26" height="135" fill="url(#k)"/><rect x="592" y="845" width="26" height="135" fill="url(#k)"/>
<path class="l" d="M478 45H767M478 52H767M478 75H767M495 175H767M495 185H767M505 75V170H748V75M495 265H782M495 275H782M478 45V1000M490 45V1000M595 270V1000M620 270V1000M490 628H595M490 655H595M478 1000H620M478 1020H620M478 1075H620M478 1083H620M480 1100H620M480 1170H620M480 1248H620M480 1325H620M480 1020V1325M620 1020V1325M555 1100V1170M555 1250V1325M443 1330H812V1405H443ZM622 1245V1330M622 1245H812M622 1280H812M812 1165V1435M372 1245H478"/>
<rect x="594" y="45" width="26" height="383" fill="url(#y)" stroke="#cfc43a" stroke-width="3"/>
<path class="g" d="M513 985V1385M584 985V1385M548 985V1085"/>
<path class="l" d="M380 38V1025M372 45H442M372 1020H442M370 34L390 52M370 1012L390 1030M648 262V432M640 265H660M640 428H660M672 180V1025M664 178H684M655 1020H875M664 1015L682 1032M873 1015V1335M812 1330H880M473 505H625M478 490V520M620 490V520"/>
<text transform="translate(376,715) rotate(-90)" textLength="355">12'-0" MAX TOTAL WALL HEIGHT</text>
<text transform="translate(646,372) rotate(-90)" textLength="50">20"</text>
<text transform="translate(666,672) rotate(-90)" textLength="137">10'-0" (MAX)</text>
<text transform="translate(868,1225) rotate(-90)" textLength="96">48" MAX</text>
<text x="530" y="498" textLength="35">SEE</text><text x="522" y="530" textLength="48">PLAN</text>
<path class="l" d="M248 152H392L535 255M325 358L590 312M215 570H415L478 672M415 572L590 722M215 722H555V990M243 792H530V985M225 865H405L510 985M228 937H400L495 1070M190 1012H352L475 1130M330 1120H385L510 1205M275 1322H330L443 1375M300 1475H375L510 1385M790 72H720L620 225M790 225H710L620 255M790 270H620M760 388H725L690 285M760 877H650L608 925M695 1080H655L672 1240M830 1400L740 1370"/>
<text x="60" y="165" textLength="172">(2) ROWS OF 16d</text><text x="60" y="192" textLength="140">SINKER NAILS</text><text x="60" y="220" textLength="100">AT 3" OC.</text>
<text x="58" y="370" textLength="257">(2) SIMPSON CS16 STRAP</text>
<text x="58" y="399" textLength="260">WITH 8d NAILS. (EXTEND</text>
<text x="58" y="426" textLength="265">TO WALL TOP PLATE AND</text>
<text x="58" y="454" textLength="197">EXTEND 20" UNDER</text>
<text x="58" y="482" textLength="97">HEADER).</text>
<text x="58" y="557" textLength="267">MIN (2)2X WALL FRAMING,</text>
<text x="58" y="584" textLength="212">SEE PLAN FOR STUD</text>
<text x="58" y="611" textLength="245">COLUMN REQUIREMENTS.</text>
<text x="58" y="690" textLength="250">⅝" DIAM. ANCHOR BOLT</text>
<text x="58" y="716" textLength="219">(7" EMBEDMENT) WITH</text>
<text x="58" y="748" textLength="267">2"x2"x⅜" PLATE WASHER.</text>
<text x="58" y="807" textLength="129">(1) 2x PLATE</text>
<text x="58" y="875" textLength="150">TREATED PLATE</text>
<text x="65" y="922" textLength="153">8" BOND BEAM</text>
<text x="65" y="951" textLength="163">WITH (1) #4 BAR.</text>
<text x="65" y="1027" textLength="125">8" (MIN) CMU</text>
<text x="60" y="1094" textLength="255">⅝" THREADED ROD WITH</text>
<text x="60" y="1122" textLength="230">⅜" x 1½" x 1½" PLATE</text>
<text x="60" y="1146" textLength="240">WASHERS AND NUTS OR</text>
<text x="60" y="1173" textLength="272">SIMPSON "SET OR SET-XP"</text>
<text x="60" y="1200" textLength="160">EPOXY.  7" MIN.</text>
<text x="60" y="1228" textLength="230">EMBEDMENT INTO FTG.</text>
<text x="62" y="1325" textLength="136">MIN 10" DEEP</text>
<text x="62" y="1353" textLength="206">CONCRETE FOOTING</text>
<text x="62" y="1382" textLength="170">(SEE PLANS FOR</text>
<text x="62" y="1410" textLength="68">WIDTH)</text>
<text x="60" y="1458" textLength="207">3" CONC. COVER AT</text>
<text x="60" y="1485" textLength="208">BOTTOM AND 6" MIN</text>
<text x="60" y="1512" textLength="180">CONC. COVER ON</text>
<text x="60" y="1539" textLength="195">SIDES OF ANCHOR.</text>
<text x="60" y="1565" textLength="52">(TYP)</text>
<text x="795" y="80" textLength="302">NOTE: FOR 3" WIDE HEADERS</text>
<text x="795" y="107" textLength="245">IN 2x6 WALLS, PROVIDE</text>
<text x="795" y="133" textLength="305">SOLID BLOCKING AT STRAPS.</text>
<text x="795" y="199" textLength="280">NOTE: AT INTERMEDIATE WALL</text>
<text x="795" y="224" textLength="323">SEGMENTS BETWEEN OPENINGS, THE</text>
<text x="795" y="248" textLength="310">STRAPS SHALL BE INSTALLED AT</text>
<text x="795" y="272" textLength="330">THE STUD COLUMN ON EACH END OF</text>
<text x="795" y="296" textLength="183">THE WALL SEGMENT.</text>
<text x="765" y="361" textLength="300">MIN. 3"x11.25" HEADER. SEE PLAN</text>
<text x="765" y="386" textLength="247">FOR ACTUAL SIZE. EXTEND</text>
<text x="765" y="409" textLength="125">OVER PANEL.</text>
<text x="765" y="464" textLength="290">FASTEN SHEATHING TO HEADER</text>
<text x="765" y="488" textLength="305">W/ 8d COMMON NAILS IN 3" GRID</text>
<text x="765" y="512" textLength="265">PATTERN AND 3" O.C. IN ALL</text>
<text x="765" y="538" textLength="307">FRAMING (STUDS, BLOCKING, AND</text>
<text x="765" y="564" textLength="105">SILLS) TYP.</text>
<text x="765" y="627" textLength="225">PANEL EDGES SHALL BE</text>
<text x="765" y="652" textLength="310">BLOCKED AND OCCUR WITHIN 24"</text>
<text x="765" y="677" textLength="275">OF MID-HEIGHT.  ONE ROW OF</text>
<text x="765" y="701" textLength="270">TYP. SHEATHING-TO-FRAMING</text>
<text x="765" y="727" textLength="267">NAILING IS REQ'D (3" OC).</text>
<text x="765" y="751" textLength="307">ATTACH BLOCKING TOGETHER W/</text>
<text x="765" y="777" textLength="150">(3) 16d SINKERS.</text>
<text x="767" y="865" textLength="273">3500 LB HOLDOWN (SIMPSON</text>
<text x="767" y="890" textLength="295">HTT4 HOLDOWN W/ 18-16dx2-1/2"</text>
<text x="767" y="915" textLength="158">NAILS OR EQUAL)</text>
<text x="695" y="1066" textLength="90">GARAGE</text><text x="695" y="1093" textLength="123">SLAB OVER</text><text x="695" y="1120" textLength="123">GRAVEL AS</text><text x="695" y="1146" textLength="107">SPECIFIED</text>
<text x="833" y="1389" textLength="140">MIN. FTG WIDTH</text><text x="833" y="1413" textLength="182">UNDER OPENING: 12"</text>
<path class="l" d="M512 1452H772V1505H512ZM1161 1452H1420V1505H1161Z"/>
<text class="b" x="533" y="1490" textLength="182">INTERIOR VIEW</text>
<text class="b" x="1178" y="1490" textLength="190">EXTERIOR VIEW</text>

<rect x="1137" y="45" width="12" height="970" fill="url(#d)" opacity=".55"/>
<rect x="1100" y="1330" width="370" height="75" fill="url(#c)"/>
<rect x="1280" y="1245" width="190" height="35" fill="url(#c)"/><rect x="1280" y="1280" width="190" height="48" fill="url(#r)"/>
<rect x="1030" y="1245" width="105" height="50" fill="url(#e)"/>
<rect x="1137" y="185" width="140" height="100" fill="url(#c)"/>
<rect x="1137" y="845" width="26" height="135" fill="url(#k)"/><rect x="1250" y="845" width="26" height="135" fill="url(#k)"/>
<path class="l" d="M1137 45H1425M1137 60H1425M1137 75H1425M1160 75V170H1415V75M1250 75V170M1137 180H1440M1137 185H1440M1137 262H1440M1137 272H1440M1137 45V1020M1150 45V1020M1277 180V1020M1155 290V1000M1250 290V1000M1265 290V1000M1150 628H1265M1150 655H1265M1137 1000H1277M1137 1020H1277M1137 1075H1277M1137 1083H1277M1137 1100H1277M1137 1170H1277M1137 1248H1277M1137 1325H1277M1137 1020V1325M1277 1020V1325M1215 1100V1170M1215 1250V1325M1100 1330H1470V1405H1100ZM1280 1245V1330M1280 1245H1470M1280 1280H1470M1470 1165V1435M1030 1245H1135"/>
<path class="g" d="M1170 985V1385M1240 985V1385M1206 985V1085"/>
<path class="l" d="M1180 60L1215 45M1260 75L1290 45M1330 75L1360 45M1160 160L1225 100M1235 115L1285 60M1285 160L1370 80M1370 100L1420 50M1140 240L1200 190M1140 275L1270 195M1300 250L1370 190M1355 260L1440 200M1160 345L1210 300M1160 440L1277 290M1180 510L1277 380M1220 430L1277 360M1155 590L1277 450M1160 660L1210 610M1170 730L1277 610M1180 880L1277 770M1165 980L1277 850M1160 820L1240 730"/>
<path class="l" d="M1078 538H1115L1220 280M1052 705H1165M1277 380H1435M1305 853H1245L1200 795M1345 933H1295L1240 990M1345 1058H1275L1240 1020"/>
<text x="1310" y="376" textLength="85">6' TO 18'</text>
<text x="1310" y="834" textLength="203">MIN 7/16" THICK WOOD</text>
<text x="1310" y="858" textLength="180">STRUCTURAL PANEL</text>
<text x="1310" y="882" textLength="98">SHEATHING</text>
<text x="1350" y="944" textLength="148">(2) 2x PLATES</text>
<text x="1348" y="1067" textLength="187">TREATED SILLPLATE</text>
</g>

<!-- footing section / plan / HTT4 / title -->
<g transform="translate(1680,920) scale(.33333)">
<path class="l" d="M345 133V375M349 133V375M404 133V350"/>
<rect x="374" y="198" width="26" height="147" rx="12" fill="url(#c)" stroke="#cfd2dc" stroke-width="3"/>
<path class="l" d="M350 350H405M350 360H405M350 378H405"/>
<rect x="345" y="380" width="15" height="312" fill="url(#d)"/><rect x="405" y="380" width="15" height="312" fill="url(#d)"/>
<path class="l" d="M345 380H420V692H345ZM345 460H420M345 537H420M345 615H420"/>
<path class="g" d="M388 345V750"/>
<path class="l" d="M302 278H335V692H302ZM293 255L335 245V278H302ZM302 306H335M302 334H335M302 362H335M302 390H335M302 418H335M302 446H335M302 474H335M302 502H335M302 530H335M302 558H335M302 586H335M302 614H335M302 642H335M302 670H335"/>
<polygon points="110,615 300,595 300,635 115,650" fill="url(#e)"/><path class="l" d="M110 615L300 595"/>
<rect x="261" y="695" width="197" height="80" fill="url(#c)" stroke="#cfd2dc" stroke-width="3"/>
<rect x="425" y="553" width="155" height="39" fill="url(#c)"/><path class="l" d="M425 553H580M425 592H580"/><path d="M425 553V592" stroke="#e4e6ec" stroke-width="5"/>
<path class="l" d="M260 815V860M457 815V860M254 858H462"/>
<text x="303" y="853" textLength="112">SEE PLAN</text>
<path class="l" d="M223 956H545V1021H223Z"/><text class="b" x="265" y="1001" textLength="245">FOOTING SECTION</text>
<path class="l" d="M188 98H215L375 265M58 250H135L300 340M125 315H182L360 505M215 475H240L385 570M490 144H465L408 178M495 217H475L405 345M495 265H470L408 360M540 376H485L420 420M500 468H462L485 552M530 675H480L425 655M535 723L460 735M530 820H505L385 747"/>
<text class="m" x="-18" y="81" textLength="306">3,500 LB HOLDOWN (SIMPSON</text>
<text class="m" x="-18" y="106" textLength="188">HTT4 HOLDOWN W/</text>
<text class="m" x="-18" y="132" textLength="198">18-16dx2-1/2" NAILS</text>
<text class="m" x="-18" y="157" textLength="110">OR EQUAL)</text>
<text style="font-size:20px" x="-40" y="256" textLength="87">OPTIONAL</text><text style="font-size:20px" x="-40" y="278" textLength="70">VENEER</text>
<text x="-115" y="326" textLength="213">8" MASONRY WALL</text>
<text x="-115" y="355" textLength="247">(INSTALL HORIZONTAL</text>
<text x="-115" y="384" textLength="285">REINFORCING AS REQ'D).</text>
<text x="-115" y="413" textLength="222">TOP COURSE TO BE</text>
<text x="-115" y="440" textLength="157">FILLED SOLID</text>
<text x="-115" y="484" textLength="325">⅝" THREADED ROD WITH ⅝"</text>
<text x="-115" y="512" textLength="331">x 1½" x 1½" PLATE WASHERS</text>
<text x="-115" y="538" textLength="319">AND NUTS OR SIMPSON "SET</text>
<text x="-115" y="566" textLength="320">OR SET-XP" EPOXY.  7" MIN.</text>
<text x="-115" y="593" textLength="255">EMBEDMENT INTO FTG.</text>
<text class="m" x="498" y="151" textLength="167">2X WALL FRAMING</text>
<text class="m" x="500" y="225" textLength="112">(1) 2x PLATE</text>
<text class="m" x="500" y="272" textLength="148">TREATED PLATE</text>
<text x="548" y="367" textLength="172">8" BOND BEAM</text><text x="548" y="396" textLength="182">WITH (1) #4 BAR.</text>
<text x="505" y="475" textLength="173">4" CONC. SLAB</text><text x="505" y="504" textLength="125">(SEE PLAN)</text>
<text x="537" y="683" textLength="208">OPTIONAL 12" CMU</text>
<text x="538" y="731" textLength="279">MIN 10" DEEP CONCRETE</text>
<text x="538" y="760" textLength="297">FOOTING (SEE PLANS FOR</text>
<text x="538" y="789" textLength="74">WIDTH)</text>
<text x="540" y="827" textLength="230">3" CONC. COVER AT</text>
<text x="540" y="855" textLength="308">BOTTOM AND 6" MIN CONC.</text>
<text x="540" y="882" textLength="235">COVER ON SIDES OF</text>
<text x="540" y="911" textLength="165">ANCHOR. (TYP)</text>

<rect x="933" y="240" width="27" height="45" fill="url(#s)"/><rect x="1065" y="232" width="25" height="52" fill="url(#s)"/>
<rect x="935" y="98" width="32" height="14" fill="url(#s)"/><rect x="935" y="215" width="32" height="13" fill="url(#s)"/>
<path class="l" d="M927 68V288H1090V228H935V68M967 68V228"/>
<path d="M1090 228H1362M1090 288H1362" stroke="#cfd2dc" stroke-width="3" stroke-dasharray="13 8" fill="none"/>
<path class="l" d="M963 248H985V270H963ZM1037 248H1059V270H1037Z"/><circle class="l" cx="974" cy="259" r="5"/><circle class="l" cx="1048" cy="259" r="5"/>
<path class="l" d="M1095 62H1070L970 102M1095 95H1068L1015 225M835 330H820L925 120M990 330H1005L980 290M1085 325H1060L990 268"/>
<text class="m" x="1100" y="71" textLength="105">SIDE WALL</text><text class="m" x="1100" y="104" textLength="97">2x6 WALL</text><text class="m" x="1110" y="268" textLength="85">OPENING</text>
<text class="m" x="838" y="340" textLength="157">EXTERIOR WSP</text><text class="m" x="838" y="364" textLength="107">SHEATHING</text>
<text class="m" x="1090" y="332" textLength="197">3,500 LB HOLDOWN</text><text class="m" x="1090" y="358" textLength="148">(SIMPSON HTT4</text><text class="m" x="1090" y="384" textLength="212">HOLDOWN) OR EQUAL</text>
<path class="l" d="M967 424H1247V478H967Z"/><text class="b" x="1030" y="463" textLength="143">PLAN VIEW</text>

<polygon points="1172,565 1230,560 1235,758 1265,918 1190,950 1170,890 1172,765" fill="none" stroke="#cfd2dc" stroke-width="3.4"/>
<polygon points="1176,570 1226,566 1232,756 1236,840 1206,845 1176,765" fill="url(#h)"/>
<path class="l" d="M1185 770L1195 895M1222 765L1240 895M1190 950L1185 925L1255 895"/>
<circle cx="1213" cy="917" r="11" fill="#c4c7d0"/>
<path class="l" d="M1090 972H1340V1021H1090Z"/><text class="b" x="1118" y="1008" textLength="192">SIMPSON HTT4</text>

<path class="l" d="M58 1150H222V1187H58Z"/><text x="83" y="1180" textLength="114">SECTION</text>
<circle class="l" cx="270" cy="1168" r="49"/><line class="l" x1="222" y1="1168" x2="320" y2="1168"/>
<text x="270" y="1162" text-anchor="middle">901A</text><text x="270" y="1196" text-anchor="middle">SD</text>
<text class="h" x="338" y="1162" textLength="902">APA PORTAL FRAME W/ HOLD-DOWNS</text>
<line class="l" x1="338" y1="1168" x2="1242" y2="1168"/>
<text class="b" x="338" y="1200" textLength="902">DETAIL AND APPLICATION BASED ON APA TT-100F WITH USE</text>
<text class="b" x="338" y="1236" textLength="832">OF TABLE 1 FOR APA PORTAL FRAME WITH HOLD-DOWN</text>
<text class="b" x="338" y="1271" textLength="182">CAPACITIES.</text>
</g>
</svg>
</body></html>
